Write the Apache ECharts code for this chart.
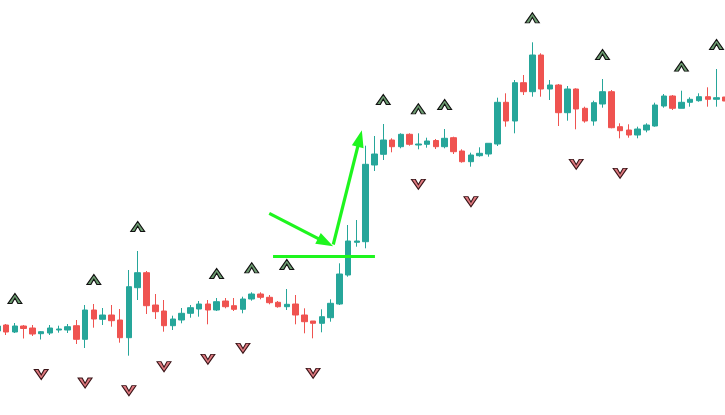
<!DOCTYPE html>
<html>
<head>
<meta charset="utf-8">
<script src="https://cdn.jsdelivr.net/npm/echarts@6/dist/echarts.min.js"></script>
<style>html,body{margin:0;padding:0;background:#fff}#c{width:725px;height:415px}</style>
</head>
<body>
<div id="c"></div>
<script>
// OHLC values: [open, close, low, high]
var ohlc = [
[84,89,82,91],[90,83,80,91],[83,89,82,92],[89,86.5,76.5,90],[87,81,79,90],
[81.3,83.3,75.5,84],[82,87,80,90],[85,86,82.3,89.3],[85,88.3,82,91],[89.3,75.7,71,95],
[75.7,105,67,110],[105,96,87.3,111],[95.7,100,90,107],[100,94.3,88.3,110],[95,77.3,72.3,106],
[77.3,128.3,59.3,145],[127.3,142.3,115,164],[142.3,109.3,101,144],[110,103.3,96,121],[104,89.3,83.3,115],
[89.3,96,85,99.3],[95,101.7,91.7,107],[101.7,107.3,97.3,110],[106,111,98.3,114],[111,105,90.7,115],
[105,113.3,104,117],[114,108.3,106.7,117],[109.3,105.7,104,117],[105.7,116,101.7,118.3],[116,121,114.3,122.7],
[121,117.7,115.7,122.7],[117.7,112.3,110.7,120],[112.7,108.3,107.3,114],[108.3,110.7,105,126],[111,100,90.7,120],
[100,93.3,81.7,106.7],[94,91.7,76.7,94],[91.7,98.3,82.7,105.7],[97.3,111.7,93.3,115.7],[111,141,110,151.7],
[140,174,138.3,190],[172.7,174,168.3,195],[173.3,250.7,166.7,269.3],[250,261,244,279],[260.7,275,255,291],
[275,268.3,262.7,276.7],[268.3,280.7,266.7,281.7],[280.7,270.7,269.3,281.7],[270,271,265.7,281.7],[270.7,274,267.3,277.3],
[274.5,268.3,266,276],[268.3,276.7,266.7,286],[277.3,263.3,261,278.3],[264,253.3,252.3,265.7],[253.3,260,248.3,262.3],
[259.3,261.7,258.3,267.7],[261,271.7,258.3,271.7],[271,312.7,269,317.3],[312.7,294,288.3,321.7],[294,332.3,281.7,335],
[332.3,323.3,320,340],[323.3,360,318.3,372.7],[360,326,318.3,361.7],[326,330,315,335],[330,302.3,289,331],
[302.3,326,294.3,329],[326,306,285.7,326.7],[306.7,294,292.3,308.3],[294,312.3,289.3,314.3],[311,323.3,307.3,336],
[323.3,287.3,286.7,325],[288.3,284.3,276.7,291.7],[285,280,277.3,290.7],[280,286,276.7,288.3],[285,290,282.7,291.7],
[289,310,288.3,312.3],[309,319,307.3,321],[319,306.7,305,320],[306.7,312.7,306.7,324.3],[312.7,315.7,308.3,317.7],
[314.3,318.3,313.3,321.7],[318.3,315.7,308.3,327.7],[315.7,317.3,308.3,346],[318,314,312,325]
];
// fractal markers (bar indices)
var upFractals = [2,11,16,25,29,33,44,48,51,61,69,78,82];
var downFractals = [5,10,15,19,24,28,36,48,54,66,71];
// annotation drawings in [bar position, price]
var levelLine = [[31.43,158.3],[43.05,158.3]];
var arrowDown = [[31.0,201.7],[37.42,172.7]];
var arrowUp = [[38.3,170.5],[41.32,276.5]];

var GREEN = '#26a69a', RED = '#ef5350', DRAW = '#1ef51e';
var upPath = 'path://M0,10 L7,0 L14,10 L10,10 L7,4.6 L4,10 Z';
var dnPath = 'path://M0,0 L7,10 L14,0 L10,0 L7,5.4 L4,0 Z';

var candleData = ohlc.map(function(d,i){return [i, d[0], d[1], d[2], d[3]];});

var chart = echarts.init(document.getElementById('c'), null, {renderer:'canvas'});
chart.setOption({
  animation:false,
  backgroundColor:'#ffffff',
  grid:{left:0, right:0, top:0, bottom:0},
  xAxis:{type:'value', min:0.2965, max:82.965, show:false, splitLine:{show:false}},
  yAxis:{type:'value', min:0, max:415, show:false, splitLine:{show:false}},
  series:[
    {type:'candlestick', data:candleData, encode:{x:0, y:[1,2,3,4]}, barWidth:6, clip:false,
     itemStyle:{color:GREEN,color0:RED,borderColor:GREEN,borderColor0:RED,borderWidth:1}},
    {type:'scatter', symbol:upPath, symbolSize:[14,10], symbolOffset:[0,-24.5], clip:false,
     data:upFractals.map(function(i){return [i, ohlc[i][3]];}),
     itemStyle:{color:'#6e9e72',borderColor:'#111',borderWidth:1,opacity:1}, z:5},
    {type:'scatter', symbol:dnPath, symbolSize:[14,10], symbolOffset:[0,35], clip:false,
     data:downFractals.map(function(i){return [i, ohlc[i][2]];}),
     itemStyle:{color:'#e07a80',borderColor:'#3a1518',borderWidth:1,opacity:1}, z:5},
    {type:'line', data:[], z:10,
     markLine:{silent:true, animation:false, label:{show:false},
       lineStyle:{color:DRAW,width:3.2,type:'solid'},
       data:[
         [{coord:levelLine[0],symbol:'none'},{coord:levelLine[1],symbol:'none'}],
         [{coord:arrowDown[0],symbol:'none'},{coord:arrowDown[1],symbol:'triangle',symbolSize:[12,17]}],
         [{coord:arrowUp[0],symbol:'none'},{coord:arrowUp[1],symbol:'triangle',symbolSize:[12,17]}]
       ],
       itemStyle:{color:DRAW}
     }}
  ]
});
</script>
</body>
</html>
